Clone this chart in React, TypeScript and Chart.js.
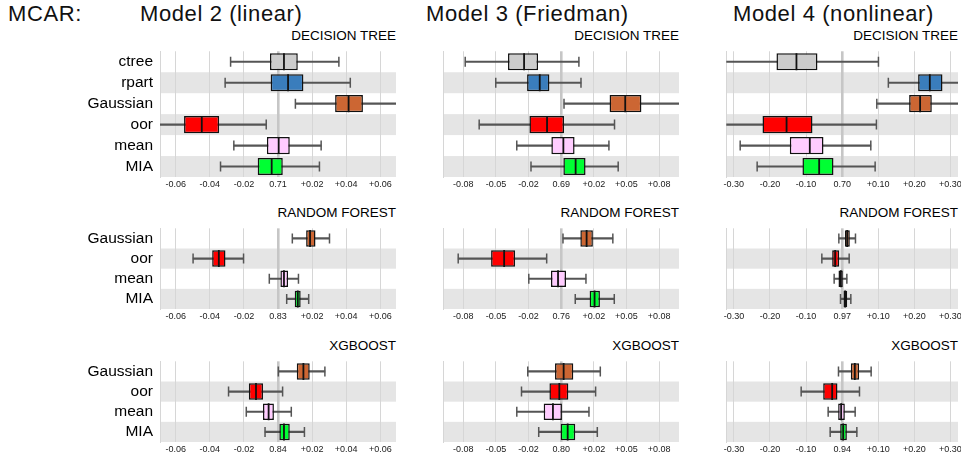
import React, { useEffect, useRef } from "react";
import { Chart, registerables } from "chart.js";
Chart.register(...registerables);

// ---------- data ----------
const treeMethods = ["ctree", "rpart", "Gaussian", "oor", "mean", "MIA"];
const ensembleMethods = ["Gaussian", "oor", "mean", "MIA"];

const modelTitles = ["Model 2 (linear)", "Model 3 (Friedman)", "Model 4 (nonlinear)"];
const learnerTitles = ["DECISION TREE", "RANDOM FOREST", "XGBOOST"];

// relative score; each row: [lower whisker, Q1, median, Q3, upper whisker]
const m2Tree = [
  [-0.0278, -0.0047, 0.0035, 0.0116, 0.0357],
  [-0.031, -0.0043, 0.0059, 0.0149, 0.0424],
  [0.0102, 0.0335, 0.0414, 0.0498, 0.08],
  [-0.075, -0.0551, -0.0447, -0.0345, -0.0069],
  [-0.0259, -0.0065, 0.0004, 0.0069, 0.0253],
  [-0.0337, -0.0119, -0.0037, 0.0028, 0.0243],
];
const m3Tree = [
  [-0.0735, -0.0407, -0.0284, -0.0177, 0.0136],
  [-0.0501, -0.0261, -0.0164, -0.009, 0.0152],
  [0.0022, 0.0371, 0.0491, 0.0615, 0.11],
  [-0.0628, -0.0243, -0.0108, 0.0022, 0.0409],
  [-0.034, -0.0075, 0.0017, 0.0103, 0.0366],
  [-0.0231, 0.0017, 0.0111, 0.0187, 0.0437],
];
const m4Tree = [
  [-0.36, -0.182, -0.1266, -0.0684, 0.1006],
  [0.128, 0.2105, 0.2429, 0.278, 0.36],
  [0.096, 0.1856, 0.216, 0.2484, 0.36],
  [-0.36, -0.2207, -0.154, -0.0822, 0.095],
  [-0.2825, -0.145, -0.0896, -0.0517, 0.0794],
  [-0.2355, -0.11, -0.0637, -0.024, 0.0914],
];
const m2Forest = [
  [0.0084, 0.0165, 0.0188, 0.022, 0.0302],
  [-0.0498, -0.0386, -0.0347, -0.0308, -0.0202],
  [-0.0051, 0.0014, 0.0035, 0.0059, 0.012],
  [0.0051, 0.0098, 0.0116, 0.0133, 0.018],
];
const m3Forest = [
  [0.0014, 0.0147, 0.0195, 0.0243, 0.0396],
  [-0.0789, -0.0537, -0.0437, -0.0353, -0.0111],
  [-0.0248, -0.0078, -0.0024, 0.0037, 0.019],
  [0.0108, 0.0218, 0.0256, 0.0297, 0.0407],
];
const m4Forest = [
  [-0.0092, 0.0074, 0.0139, 0.0212, 0.0369],
  [-0.0563, -0.0277, -0.0194, -0.0083, 0.0194],
  [-0.0222, -0.0102, -0.0037, 0.0018, 0.013],
  [-0.0046, 0.0037, 0.0083, 0.0139, 0.024],
];
const m2Boost = [
  [0.0002, 0.011, 0.0149, 0.0186, 0.0275],
  [-0.029, -0.0171, -0.0129, -0.0088, 0.0027],
  [-0.0186, -0.0088, -0.0055, -0.0024, 0.0078],
  [-0.0076, 0.0008, 0.0035, 0.0069, 0.0155],
];
const m3Boost = [
  [-0.0256, -0.0047, 0.0019, 0.0093, 0.03],
  [-0.0304, -0.009, -0.0014, 0.0055, 0.0264],
  [-0.034, -0.0134, -0.0063, 0.0006, 0.0213],
  [-0.0172, -0.0004, 0.005, 0.0108, 0.0277],
];
const m4Boost = [
  [-0.0102, 0.024, 0.0351, 0.0471, 0.0803],
  [-0.1136, -0.0526, -0.0277, -0.013, 0.048],
  [-0.0388, -0.0111, -0.0028, 0.0074, 0.036],
  [-0.0332, -0.0055, 0.0028, 0.013, 0.0407],
];

// x ticks per model column (0 = baseline score)
const m2TickValues = [-0.06, -0.04, -0.02, 0, 0.02, 0.04, 0.06];
const m2TickLabels = ["-0.06", "-0.04", "-0.02", "", "+0.02", "+0.04", "+0.06"];
const m3TickValues = [-0.075, -0.05, -0.025, 0, 0.025, 0.05, 0.075];
const m3TickLabels = ["-0.08", "-0.05", "-0.02", "", "+0.02", "+0.05", "+0.08"];
const m4TickValues = [-0.3, -0.2, -0.1, 0, 0.1, 0.2, 0.3];
const m4TickLabels = ["-0.30", "-0.20", "-0.10", "", "+0.10", "+0.20", "+0.30"];
const m2Baselines = ["0.71", "0.83", "0.84"];
const m3Baselines = ["0.69", "0.76", "0.80"];
const m4Baselines = ["0.70", "0.97", "0.94"];
const axisLimits = [0.0692, 0.0903, 0.321];

const methodColors: Record<string, string> = {
  ctree: "#cccccc",
  rpart: "#3a7dbc",
  Gaussian: "#cc6633",
  oor: "#ff0000",
  mean: "#ffccff",
  MIA: "#00ff33",
};

// ---------- layout ----------
const FONT = "'Liberation Sans', Arial, Helvetica, sans-serif";
const colBox = [
  { left: 160, right: 396 },
  { left: 443, right: 679 },
  { left: 726, right: 958 },
];
const rowBox = [
  { top: 41, bottom: 177 },
  { top: 218, bottom: 309 },
  { top: 351, bottom: 442 },
];
const XH = 20;
const PADR = 25;

const bandPlugin = {
  id: "bands",
  beforeDraw(chart: any) {
    const { ctx, chartArea, scales } = chart;
    const y = scales.y;
    const n = chart.data.labels.length;
    const step = Math.abs(y.getPixelForValue(1) - y.getPixelForValue(0));
    ctx.save();
    ctx.fillStyle = "#e5e5e5";
    for (let i = 1; i < n; i += 2) {
      const c = y.getPixelForValue(i);
      ctx.fillRect(chartArea.left, c - step / 2, chartArea.right - chartArea.left, step);
    }
    ctx.restore();
  },
};

type PanelProps = {
  left: number;
  right: number;
  top: number;
  bottom: number;
  limit: number;
  tickValues: number[];
  tickLabels: string[];
  categories: string[];
  stats: number[][];
  showLabels: boolean;
};

function BoxPanel(p: PanelProps) {
  const ref = useRef<HTMLCanvasElement>(null);
  const yw = p.showLabels ? p.left : 10;
  const cl = p.left - yw;
  const w = p.right + PADR - cl;
  const h = p.bottom - p.top + XH;

  useEffect(() => {
    const canvas = ref.current!;
    const n = p.categories.length;
    const boxPct = 0.82;
    const rowH = (p.bottom - p.top) / n;
    const boxHalf = (rowH * boxPct) / 2;
    const colors = p.categories.map((c) => methodColors[c]);
    const chart = new Chart(canvas, {
      type: "bar",
      data: {
        labels: p.categories,
        datasets: [
          {
            type: "line",
            label: "median",
            indexAxis: "y",
            data: p.stats.map((s, i) => ({ x: s[2], y: p.categories[i] })),
            showLine: false,
            pointStyle: "line",
            pointRotation: 90,
            pointRadius: boxHalf - 0.8,
            pointBorderWidth: 1.8,
            pointBorderColor: "#111",
            pointBackgroundColor: "#111",
            order: 0,
          } as any,
          {
            type: "bar",
            label: "box",
            data: p.stats.map((s) => [s[1], s[3]]),
            backgroundColor: colors,
            borderColor: "#111",
            borderWidth: 1.5,
            borderSkipped: false,
            barPercentage: boxPct,
            categoryPercentage: 1,
            grouped: false,
            order: 1,
          } as any,
          {
            type: "line",
            label: "caps",
            indexAxis: "y",
            data: p.stats.flatMap((s, i) => [
              { x: s[0], y: p.categories[i] },
              { x: s[4], y: p.categories[i] },
            ]),
            showLine: false,
            pointStyle: "line",
            pointRotation: 90,
            pointRadius: 5,
            pointBorderWidth: 1.5,
            pointBorderColor: "#555",
            order: 2,
          } as any,
          {
            type: "bar",
            label: "whisker",
            data: p.stats.map((s) => [s[0], s[4]]),
            backgroundColor: "#555",
            barThickness: 1.5,
            grouped: false,
            order: 3,
          } as any,
        ],
      },
      options: {
        indexAxis: "y",
        responsive: false,
        maintainAspectRatio: false,
        animation: false,
        events: [],
        layout: { padding: { left: 0, right: PADR, top: 0, bottom: 0 } },
        plugins: {
          legend: { display: false },
          tooltip: { enabled: false },
          title: { display: false },
        },
        scales: {
          x: {
            type: "linear",
            position: "bottom",
            min: -p.limit,
            max: p.limit,
            afterBuildTicks: (s: any) => {
              s.ticks = p.tickValues.map((v) => ({ value: v }));
            },
            afterFit: (s: any) => {
              s.height = XH;
              s.paddingLeft = 0;
              s.paddingRight = 0;
            },
            grid: {
              drawTicks: false,
              color: (ctx: any) =>
                ctx.tick && Math.abs(ctx.tick.value) < 1e-9 ? "#c6c6c6" : "#d6d6d6",
              lineWidth: (ctx: any) =>
                ctx.tick && Math.abs(ctx.tick.value) < 1e-9 ? 2.6 : 1,
            },
            border: { display: false },
            ticks: {
              autoSkip: false,
              maxRotation: 0,
              padding: 2,
              color: "#1a1a1a",
              font: { family: FONT, size: 9 },
              callback: (_v: any, i: number) => p.tickLabels[i],
            },
          } as any,
          y: {
            type: "category",
            afterFit: (s: any) => {
              s.width = yw;
              s.paddingTop = 0;
              s.paddingBottom = 0;
            },
            grid: { display: false, drawTicks: false },
            border: { display: true, color: "#d6d6d6", width: 1 },
            ticks: {
              display: p.showLabels,
              autoSkip: false,
              padding: 7,
              color: "#000",
              font: { family: FONT, size: 15.5 },
            },
          } as any,
        },
      },
      plugins: [bandPlugin],
    });
    return () => chart.destroy();
  }, []);

  return (
    <canvas
      ref={ref}
      width={w}
      height={h}
      style={{ position: "absolute", left: cl, top: p.top, width: w, height: h }}
    />
  );
}

const statsGrid = [
  [m2Tree, m3Tree, m4Tree],
  [m2Forest, m3Forest, m4Forest],
  [m2Boost, m3Boost, m4Boost],
];
const tickValueCols = [m2TickValues, m3TickValues, m4TickValues];
const tickLabelCols = [m2TickLabels, m3TickLabels, m4TickLabels];
const baselineCols = [m2Baselines, m3Baselines, m4Baselines];
const modelTitleLeft = [140, 426, 733];

export default function App() {
  const panels: any[] = [];
  for (let r = 0; r < 3; r++) {
    for (let c = 0; c < 3; c++) {
      const labels = tickLabelCols[c].map((t, i) => (i === 3 ? baselineCols[c][r] : t));
      panels.push({
        key: `${r}-${c}`,
        r,
        c,
        props: {
          left: colBox[c].left,
          right: colBox[c].right,
          top: rowBox[r].top,
          bottom: rowBox[r].bottom,
          limit: axisLimits[c],
          tickValues: tickValueCols[c],
          tickLabels: labels,
          categories: r === 0 ? treeMethods : ensembleMethods,
          stats: statsGrid[r][c],
          showLabels: c === 0,
        },
      });
    }
  }
  return (
    <div
      style={{
        position: "fixed",
        left: 0,
        top: 0,
        width: 961,
        height: 461,
        background: "#fff",
        overflow: "hidden",
        fontFamily: FONT,
        color: "#111",
      }}
    >
      <div style={{ position: "absolute", left: 8, top: 3, fontSize: 22, lineHeight: "22px", letterSpacing: 0.6, whiteSpace: "nowrap" }}>
        MCAR:
      </div>
      {modelTitles.map((t, i) => (
        <div
          key={t}
          style={{ position: "absolute", left: modelTitleLeft[i], top: 3, fontSize: 22, lineHeight: "22px", letterSpacing: 0.6, whiteSpace: "nowrap" }}
        >
          {t}
        </div>
      ))}
      {panels.map((pn) => (
        <React.Fragment key={pn.key}>
          <div
            style={{
              position: "absolute",
              right: 961 - colBox[pn.c].right,
              top: rowBox[pn.r].top - 12,
              fontSize: 13.5,
              lineHeight: "14px",
              whiteSpace: "nowrap",
              color: "#000",
            }}
          >
            {learnerTitles[pn.r]}
          </div>
          <BoxPanel {...pn.props} />
        </React.Fragment>
      ))}
    </div>
  );
}
